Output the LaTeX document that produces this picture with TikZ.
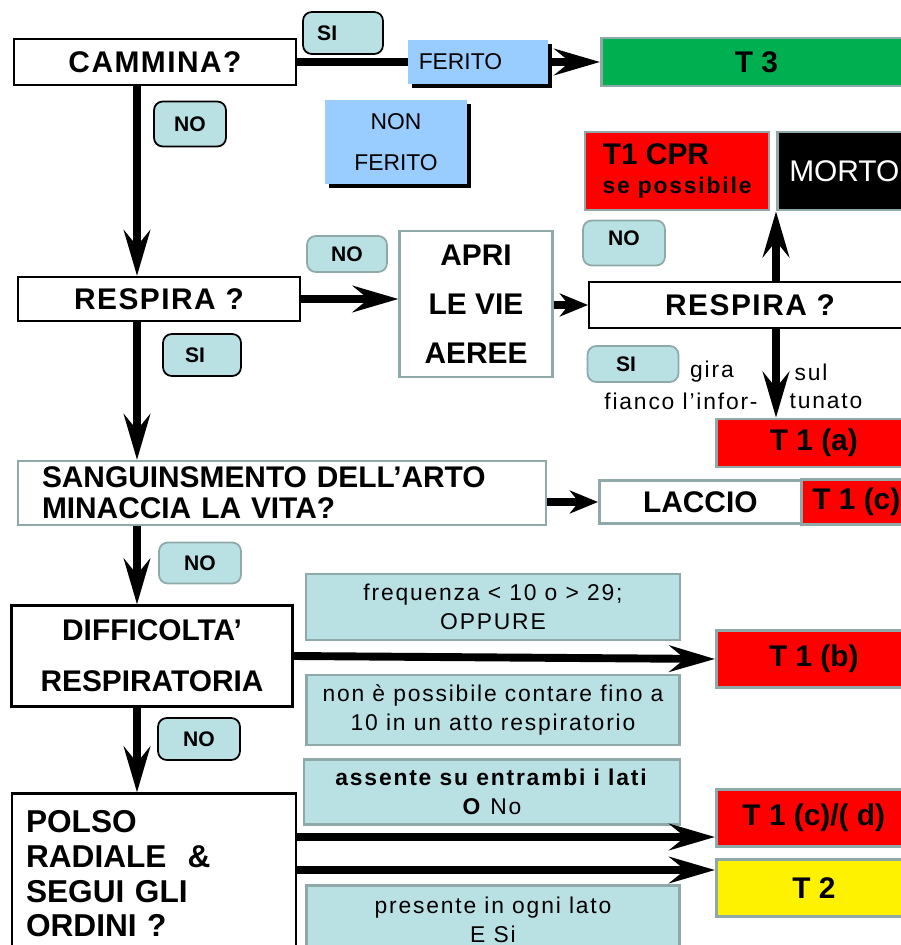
\documentclass[tikz,border=0pt]{standalone}
\usepackage{fontspec}
\setmainfont{Liberation Sans}
\newfontfamily\spacedfont[LetterSpace=8]{Liberation Sans}
\newfontfamily\wideheadfont[LetterSpace=5]{Liberation Sans}
\usetikzlibrary{arrows.meta}
\usetikzlibrary{shadows}

\definecolor{answerbg}{HTML}{B9E0E3}
\definecolor{injured}{HTML}{99CCFF}
\definecolor{greyline}{HTML}{8FA9A9}
\definecolor{tgreen}{HTML}{00B050}

\tikzset{
  sz/.style 2 args={minimum width=#1*0.02cm, minimum height=#2*0.02cm},
  question/.style={draw=black, line width=1.2pt, fill=white, inner sep=0pt, align=center, font=\fontsize{17}{20}\selectfont\bfseries},
  wideq/.style={question, font=\wideheadfont\fontsize{17}{20}\selectfont\bfseries},
  greyq/.style={question, draw=greyline},
  triage/.style={draw=greyline, line width=1.5pt, inner sep=0pt, align=center, font=\fontsize{17}{20}\selectfont\bfseries},
  answer/.style={draw=black, line width=1pt, rounded corners=5pt, fill=answerbg, inner sep=0pt, font=\fontsize{12}{14}\selectfont\bfseries},
  greyans/.style={answer, draw=greyline},
  cond/.style={draw=greyline, line width=1.2pt, fill=answerbg, inner sep=0pt, align=center, font=\spacedfont\fontsize{13}{16.5}\selectfont},
  injury/.style={fill=injured, inner sep=0pt, align=center, font=\fontsize{13}{23}\selectfont, drop shadow={shadow xshift=2pt, shadow yshift=-2pt, fill=black, opacity=1}},
  note/.style={inner sep=0pt, font=\spacedfont\fontsize{13}{16}\selectfont},
  arrow/.style={line width=4.5pt, -{Stealth[length=26pt, width=15pt, inset=9pt]}},
  shortarrow/.style={line width=4pt, -{Stealth[length=16pt, width=13pt, inset=5pt]}},
}

\begin{document}
\begin{tikzpicture}[x=0.02cm, y=-0.02cm]
        \useasboundingbox (0,0) rectangle (901,945);
        \clip (0,0) rectangle (901,945);
        \coordinate (spine) at (137,0);
        \coordinate (redrow) at (0,837);
        \coordinate (yellowrow) at (0,870);

        \node[wideq, sz={282}{46}] (cammina) at (155,62) {CAMMINA?};
        \node[answer, sz={80}{42}] (si1) at (343,33) {SI\hspace*{18pt}};
        \node[injury, sz={140}{44}] (ferito) at (478,62) {FERITO\hspace*{20pt}};
        \node[triage, fill=tgreen, sz={310}{48}, anchor=west] (t3) at (600,62) {T 3};
        \node[answer, sz={72}{45}] (no1) at (190,124) {NO};
        \node[injury, sz={142}{84}] (nonferito) at (396,142) {NON\\FERITO};

        \node[triage, fill=red, sz={184}{78}] (cpr) at (677,171) {T1 CPR\hspace*{24pt}\\[-3pt]{\spacedfont\fontsize{13}{16}\selectfont se possibile}};
        \node[triage, fill=black, text=white, font=\fontsize{17}{20}\selectfont, sz={134}{78}, anchor=west] (morto) at (776,171) {MORTO};

        \node[greyans, sz={80}{36}] (no2) at (347,254) {NO};
        \node[wideq, sz={282}{44}] (respira) at (159,299) {RESPIRA ?};
        \node[greyq, sz={153}{146}, font=\fontsize{17}{28}\selectfont\bfseries] (apri) at (476,304) {APRI\\LE VIE\\AEREE};
        \node[greyans, sz={82}{45}] (no3) at (624,243) {\raisebox{5pt}{NO}};
        \node[wideq, sz={322}{46}, anchor=west] (respira2) at (588,305) {RESPIRA ?};
        \node[answer, sz={78}{42}] (si2) at (202,355) {SI\hspace*{8pt}};
        \node[greyans, sz={91}{36}] (si3) at (633,364) {SI\hspace*{8pt}};
        \node[note] (gira) at (712,372) {gira};
        \node[note] (sul) at (811,372) {sul};
        \node[note] (fianco) at (681,401) {fianco l’infor-};
        \node[note] (tunato) at (826,401) {tunato};
        \node[triage, fill=red, sz={195}{48}, anchor=west] (t1a) at (715,443) {T 1 (a)};

        \node[greyq, sz={528}{64}, text width=480*0.02cm, align=left, font=\fontsize{17}{17.6}\selectfont\bfseries] (sang) at (282,493) {SANGUINSMENTO DELL’ARTO\\MINACCIA LA VITA?};
        \node[triage, fill=white, sz={202}{43}, anchor=west] (laccio) at (598,502) {LACCIO};
        \node[triage, fill=red, sz={110}{45}, anchor=west] (t1c) at (800,502) {T 1 (c)};

        \node[greyans, sz={82}{41}] (no4) at (200,563) {NO};
        \node[question, sz={281}{101}, font=\fontsize{17}{29}\selectfont\bfseries] (diff) at (152,656) {DIFFICOLTA’\\RESPIRATORIA};
        \node[cond, sz={374}{66}] (freq) at (493,607) {frequenza < 10 o > 29;\\OPPURE};
        \node[triage, fill=red, sz={195}{57}, anchor=west] (t1b) at (715,659) {T 1 (b)};
        \node[cond, sz={373}{70}] (nonposs) at (493,710) {non è possibile contare fino a\\10 in un atto respiratorio};

        \node[answer, sz={82}{42}] (no5) at (199,739) {NO};
        \node[question, sz={284}{161}, text width=256*0.02cm, align=left, font=\fontsize{18}{19.7}\selectfont\bfseries] (polso) at (154,874) {POLSO\\RADIALE~~\&\\SEGUI GLI\\ORDINI ?};
        \node[cond, sz={376}{65}] (assente) at (492,792) {\textbf{assente su entrambi i lati}\\\textbf{O} No};
        \node[triage, fill=red, sz={195}{57}, anchor=west] (t1cd) at (715,818) {T 1 (c)/( d)};
        \node[triage, fill=yellow, sz={195}{57}, anchor=west] (t2) at (715,888) {T 2};
        \node[cond, sz={373}{69}] (presente) at (493,920) {presente in ogni lato\\E Si};

        \draw[line width=5pt] (cammina.east) -- (ferito.west);
        \draw[arrow] (ferito.east) -- (t3.west);
        \draw[arrow] (cammina.south -| spine) -- (respira.north -| spine);
        \draw[arrow] (respira.east) -- (apri.west |- respira.east);
        \draw[shortarrow] (apri.east |- respira2.west) -- (respira2.west);
        \draw[arrow] (respira2.north -| morto.south west) -- (morto.south west);
        \draw[arrow] (respira2.south -| morto.south west) -- (t1a.north -| morto.south west);
        \draw[arrow] (respira.south -| spine) -- (sang.north -| spine);
        \draw[shortarrow] (sang.east |- laccio.west) -- (laccio.west);
        \draw[arrow] (sang.south -| spine) -- (diff.north -| spine);
        \draw[arrow] (diff.east) -- (t1b.west);
        \draw[arrow] (diff.south -| spine) -- (polso.north -| spine);
        \draw[arrow] (polso.east |- redrow) -- (t1cd.west |- redrow);
        \draw[arrow] (polso.east |- yellowrow) -- (t2.west |- yellowrow);
      \end{tikzpicture}
\end{document}
